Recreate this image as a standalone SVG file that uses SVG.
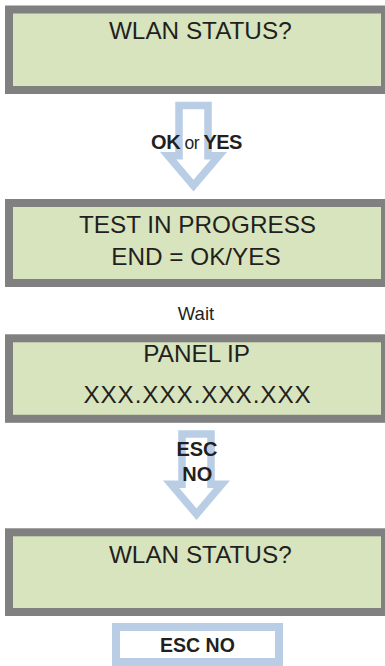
<svg xmlns="http://www.w3.org/2000/svg" width="385" height="666" viewBox="0 0 385 666">
<style>
.lcd{fill:#d7e4bd;stroke:#808080;stroke-width:8}
.t{font-family:"Liberation Sans",Arial,sans-serif;font-size:24.3px;fill:#231f20;text-anchor:middle}
.b{font-family:"Liberation Sans",Arial,sans-serif;font-weight:bold;font-size:20px;fill:#231f20;text-anchor:middle}
.arr{fill:#ffffff;stroke:#b9cde5;stroke-width:7.5;stroke-linejoin:miter}
</style>
<rect width="385" height="666" fill="#ffffff"/>
<g id="connectors">
<polygon class="arr" points="179,105.5 208,105.5 208,155.75 218.9,155.75 193.5,185.7 168.1,155.75 179,155.75"/>
<polygon class="arr" points="182,434 211,434 211,484.25 221.9,484.25 196.5,514.2 171.1,484.25 182,484.25"/>
</g>
<g id="node1">
<rect class="lcd" x="9" y="9.5" width="376" height="80.5"/>
<text class="t" x="200.3" y="39.3">WLAN STATUS?</text>
</g>
<g id="label1">
<text class="b" x="196.5" y="149.3" style="letter-spacing:-0.5px">OK<tspan font-weight="normal" font-size="17.5px"> or </tspan>YES</text>
</g>
<g id="node2">
<rect class="lcd" x="9" y="203" width="376" height="80"/>
<text class="t" x="197.5" y="233.3">TEST IN PROGRESS</text>
<text class="t" x="196" y="265">END = OK/YES</text>
</g>
<g id="label2">
<text class="t" style="font-size:18.5px" x="196" y="320">Wait</text>
</g>
<g id="node3">
<rect class="lcd" x="9" y="338.3" width="376" height="80.5"/>
<text class="t" x="196.7" y="362.3">PANEL IP</text>
<text class="t" x="197.5" y="403.3" style="letter-spacing:0.9px">XXX.XXX.XXX.XXX</text>
</g>
<g id="label3">
<text class="b" x="197" y="456">ESC</text>
<text class="b" x="197.2" y="481">NO</text>
</g>
<g id="node4">
<rect class="lcd" x="9" y="532.3" width="376" height="79.7"/>
<text class="t" x="200.3" y="562.5">WLAN STATUS?</text>
</g>
<g id="node5">
<rect x="116" y="627" width="163" height="35" fill="#ffffff" stroke="#b9cde5" stroke-width="8"/>
<text class="b" style="font-size:19.5px" x="197.5" y="651.7">ESC NO</text>
</g>
</svg>
